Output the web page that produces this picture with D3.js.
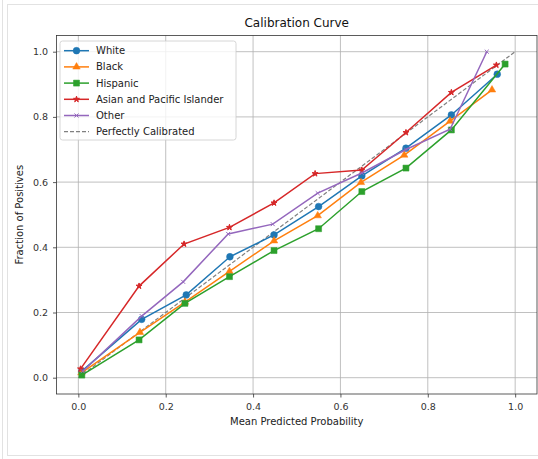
<!DOCTYPE html>
<html><head><meta charset="utf-8">
<script src="https://cdn.jsdelivr.net/npm/d3@7"></script>
<style>body{margin:0;background:#fff;}svg{display:block;font-family:"DejaVu Sans",sans-serif;}</style>
</head><body><svg id="c" width="538" height="459"></svg>
<script>
const seriesNames = ["White","Black","Hispanic","Asian and Pacific Islander","Other"];
const whiteX = [0.008,0.145,0.247,0.347,0.448,0.550,0.649,0.750,0.854,0.959];
const whiteY = [0.020,0.179,0.254,0.371,0.438,0.525,0.619,0.704,0.806,0.931];
const blackX = [0.007,0.141,0.244,0.346,0.448,0.548,0.647,0.746,0.851,0.947];
const blackY = [0.015,0.139,0.232,0.326,0.420,0.497,0.599,0.683,0.787,0.883];
const hispX  = [0.008,0.139,0.244,0.346,0.448,0.550,0.649,0.750,0.854,0.977];
const hispY  = [0.008,0.116,0.228,0.310,0.390,0.457,0.571,0.643,0.760,0.962];
const asianX = [0.005,0.139,0.242,0.346,0.448,0.542,0.649,0.750,0.854,0.957];
const asianY = [0.027,0.281,0.410,0.461,0.536,0.626,0.637,0.752,0.875,0.959];
const otherX = [0.010,0.145,0.240,0.343,0.445,0.548,0.649,0.750,0.851,0.935];
const otherY = [0.020,0.189,0.294,0.441,0.471,0.566,0.628,0.700,0.762,1.000];
const xTicks = [0,0.2,0.4,0.6,0.8,1.0];
const yTicks = [0,0.2,0.4,0.6,0.8,1.0];
const perfect = [[0,0],[1,1]];

const colors = ["#1f77b4","#ff7f0e","#2ca02c","#d62728","#9467bd"];
const markers = ["circle","triangle","square","star","cross"];
const xs=[whiteX,blackX,hispX,asianX,otherX], ys=[whiteY,blackY,hispY,asianY,otherY];

const svg=d3.select("#c");
svg.append("line").attr("x1",2.5).attr("x2",2.5).attr("y1",0).attr("y2",459).attr("stroke","#e2e2e2");
svg.append("rect").attr("x",7.5).attr("y",4.5).attr("width",540).attr("height",451).attr("fill","none").attr("stroke","#e2e2e2");

const L=56.5,R=537,T=35.4,B=394;
const x=d3.scaleLinear().domain([-0.05,1.05]).range([L,R]);
const y=d3.scaleLinear().domain([-0.05,1.05]).range([B,T]);

const g=svg.append("g");
g.selectAll(".gx").data(xTicks).join("line").attr("x1",d=>x(d)).attr("x2",d=>x(d)).attr("y1",T).attr("y2",B).attr("stroke","#b0b0b0").attr("stroke-width",0.8);
g.selectAll(".gy").data(yTicks).join("line").attr("y1",d=>y(d)).attr("y2",d=>y(d)).attr("x1",L).attr("x2",R).attr("stroke","#b0b0b0").attr("stroke-width",0.8);

const fmt=d3.format(".1f");
const ax=svg.append("g").attr("transform",`translate(0,${B})`).call(d3.axisBottom(x).tickValues(xTicks).tickFormat(fmt).tickSize(3.5).tickSizeOuter(0));
const ay=svg.append("g").attr("transform",`translate(${L},0)`).call(d3.axisLeft(y).tickValues(yTicks).tickFormat(fmt).tickSize(3.5).tickSizeOuter(0));
[ax,ay].forEach(a=>{a.select(".domain").remove();a.selectAll("text").attr("font-size",9.5).attr("fill","#333").attr("font-family","DejaVu Sans");a.selectAll("line").attr("stroke","#333").attr("stroke-width",0.8);});
ax.selectAll("text").attr("dy","1.0em");
ay.selectAll("text").attr("dx","-0.2em");

const line=d3.line().x(d=>x(d[0])).y(d=>y(d[1]));
svg.append("path").attr("d",line(perfect)).attr("fill","none").attr("stroke","#808080").attr("stroke-width",1.2).attr("stroke-dasharray","4,2");

function markerPath(type,s){
  const sym={circle:d3.symbolCircle,triangle:d3.symbolTriangle,square:d3.symbolSquare,star:d3.symbolStar,cross:d3.symbolTimes}[type];
  return d3.symbol(sym,s)();
}
const sizes={circle:36,triangle:24,square:36,star:11,cross:12};
const sw={circle:0.5,triangle:0.5,square:0.5,star:1,cross:1};
seriesNames.forEach((n,i)=>{
  const pts=xs[i].map((v,j)=>[v,ys[i][j]]);
  svg.append("path").attr("d",line(pts)).attr("fill","none").attr("stroke",colors[i]).attr("stroke-width",1.5);
  svg.selectAll(null).data(pts).join("path").attr("transform",d=>`translate(${x(d[0])},${y(d[1])})`)
    .attr("d",markerPath(markers[i],sizes[markers[i]]))
    .attr("fill",markers[i]==="cross"?"none":colors[i]).attr("stroke",colors[i]).attr("stroke-width",sw[markers[i]]);
});

svg.append("rect").attr("x",L).attr("y",T).attr("width",R-L).attr("height",B-T).attr("fill","none").attr("stroke","#333").attr("stroke-width",0.8);

const lg=svg.append("g");
lg.append("rect").attr("x",60).attr("y",41).attr("width",176).attr("height",99).attr("rx",2.5).attr("fill","#fff").attr("fill-opacity",0.8).attr("stroke","#cccccc").attr("stroke-width",0.8);
const legItems=seriesNames.concat(["Perfectly Calibrated"]);
legItems.forEach((n,i)=>{
  const yy=50.7+i*16.2;
  if(i<5){
    lg.append("line").attr("x1",64).attr("x2",89).attr("y1",yy).attr("y2",yy).attr("stroke",colors[i]).attr("stroke-width",1.5);
    lg.append("path").attr("transform",`translate(76.5,${yy})`).attr("d",markerPath(markers[i],sizes[markers[i]]))
      .attr("fill",markers[i]==="cross"?"none":colors[i]).attr("stroke",colors[i]).attr("stroke-width",sw[markers[i]]);
  } else {
    lg.append("line").attr("x1",64).attr("x2",89).attr("y1",yy).attr("y2",yy).attr("stroke","#808080").attr("stroke-width",1.2).attr("stroke-dasharray","4,2");
  }
  lg.append("text").attr("x",96).attr("y",yy).attr("dy","0.35em").attr("font-size",10).attr("fill","#222").text(n);
});

svg.append("text").attr("x",(L+R)/2).attr("y",27).attr("text-anchor","middle").attr("font-size",12).attr("fill","#111").text("Calibration Curve");
svg.append("text").attr("x",(L+R)/2).attr("y",425).attr("text-anchor","middle").attr("font-size",10).attr("fill","#222").text("Mean Predicted Probability");
svg.append("text").attr("transform",`translate(23,${(T+B)/2}) rotate(-90)`).attr("text-anchor","middle").attr("font-size",10).attr("fill","#222").text("Fraction of Positives");
</script></body></html>
